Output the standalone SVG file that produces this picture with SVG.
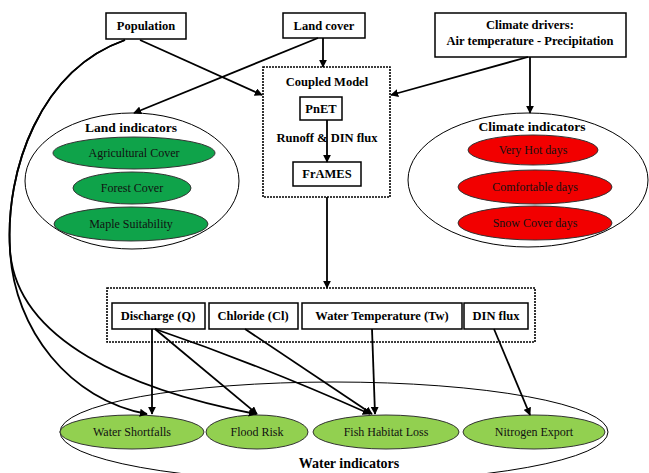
<svg xmlns="http://www.w3.org/2000/svg" width="649" height="473" viewBox="0 0 649 473">
<defs>
<marker id="ah" viewBox="0 0 10 10" refX="9" refY="5" markerWidth="8" markerHeight="8" orient="auto" markerUnits="userSpaceOnUse"><path d="M0,0 L10,5 L0,10 z" fill="#000"/></marker>
</defs>
<style>
.box{fill:#fff;stroke:#000;stroke-width:1.5}
.dash{fill:#fff;stroke:#000;stroke-width:1.6;stroke-dasharray:2,1}
.grp{fill:#fff;stroke:#000;stroke-width:1}
.lg{fill:#0fa34a;stroke:#333;stroke-width:1}
.rd{fill:#f20000;stroke:#333;stroke-width:1}
.wg{fill:#92d050;stroke:#333;stroke-width:1}
.bt{font-family:"Liberation Serif",serif;font-weight:bold;font-size:12.5px;fill:#000;text-anchor:middle}
.ht{font-family:"Liberation Serif",serif;font-weight:bold;font-size:13.5px;fill:#000;text-anchor:middle}
.et{font-family:"Liberation Serif",serif;font-size:12px;fill:#111;text-anchor:middle}
.ln{fill:none;stroke:#000;stroke-width:1.8;marker-end:url(#ah)}
</style>
<rect width="649" height="473" fill="#fff"/>

<g id="land-indicators">
<ellipse class="grp" cx="132" cy="181" rx="107" ry="68"/>
<text class="ht" x="131" y="132">Land indicators</text>
<ellipse class="lg" cx="134" cy="153" rx="81" ry="16"/>
<text class="et" x="134" y="157">Agricultural Cover</text>
<ellipse class="lg" cx="132" cy="188" rx="59" ry="16"/>
<text class="et" x="132" y="192">Forest Cover</text>
<ellipse class="lg" cx="131" cy="224" rx="77" ry="17"/>
<text class="et" x="131" y="228">Maple Suitability</text>
</g>

<g id="climate-indicators">
<ellipse class="grp" cx="528" cy="180" rx="120" ry="67"/>
<text class="ht" x="532" y="131">Climate indicators</text>
<ellipse class="rd" cx="533" cy="150" rx="65" ry="15"/>
<text class="et" x="533" y="154">Very Hot days</text>
<ellipse class="rd" cx="535" cy="187" rx="77" ry="17"/>
<text class="et" x="535" y="191">Comfortable days</text>
<ellipse class="rd" cx="535" cy="223" rx="77" ry="17"/>
<text class="et" x="535" y="227">Snow Cover days</text>
</g>

<g id="water-indicators">
<ellipse class="grp" cx="334" cy="432" rx="274" ry="50" fill="none"/>
<ellipse class="wg" cx="132" cy="432" rx="72" ry="17"/>
<text class="et" x="132" y="436">Water Shortfalls</text>
<ellipse class="wg" cx="257" cy="432" rx="51" ry="17"/>
<text class="et" x="257" y="436">Flood Risk</text>
<ellipse class="wg" cx="386" cy="432" rx="73" ry="17"/>
<text class="et" x="386" y="436">Fish Habitat Loss</text>
<ellipse class="wg" cx="534" cy="432" rx="71" ry="17"/>
<text class="et" x="534" y="436">Nitrogen Export</text>
<text class="ht" x="349" y="468" style="font-size:14px">Water indicators</text>
</g>

<g id="population">
<rect class="box" x="106" y="13" width="80" height="26"/>
<text class="bt" x="146" y="30">Population</text>
</g>

<g id="land-cover">
<rect class="box" x="283" y="13" width="82" height="25"/>
<text class="bt" x="324" y="30">Land cover</text>
</g>

<g id="climate-drivers">
<rect class="box" x="435" y="13" width="191" height="44"/>
<text class="bt" x="530" y="29">Climate drivers:</text>
<text class="bt" x="530" y="45">Air temperature - Precipitation</text>
</g>

<g id="coupled-model">
<rect class="dash" x="263" y="67" width="127" height="130"/>
<text class="bt" x="327" y="86">Coupled Model</text>
<rect class="box" x="300" y="97" width="42" height="23"/>
<text class="bt" x="321" y="113">PnET</text>
<text class="bt" x="327" y="142">Runoff &amp; DIN flux</text>
<rect class="box" x="293" y="162" width="68" height="24"/>
<text class="bt" x="327" y="178">FrAMES</text>
</g>

<g id="outputs">
<rect class="dash" x="107" y="288" width="428" height="54"/>
<rect class="box" x="112" y="303" width="93" height="26"/>
<text class="bt" x="158" y="320">Discharge (Q)</text>
<rect class="box" x="209" y="303" width="89" height="26"/>
<text class="bt" x="253" y="320">Chloride (Cl)</text>
<rect class="box" x="302" y="303" width="160" height="26"/>
<text class="bt" x="382" y="320">Water Temperature (Tw)</text>
<rect class="box" x="464" y="303" width="64" height="26"/>
<text class="bt" x="496" y="320">DIN flux</text>
</g>

<g id="connectors">
<path class="ln" d="M140,40 L262,95"/>
<path class="ln" d="M318,38 L134,113"/>
<path class="ln" d="M323,38 L323,67"/>
<path class="ln" d="M528,57 L391,95"/>
<path class="ln" d="M530,57 L530,113"/>
<path class="ln" d="M327,120 L327,162"/>
<path class="ln" d="M327,197 L327,288"/>
<path class="ln" d="M125,40 C40,70 5,170 10,250 C14,330 70,400 147,414"/>
<path class="ln" d="M125,40 C40,70 5,170 10,250 C16,340 130,390 256,414"/>
<path class="ln" d="M152,329 L152,414"/>
<path class="ln" d="M155,329 L257,414"/>
<path class="ln" d="M155,329 Q260,365 370,414"/>
<path class="ln" d="M245,329 L372,414"/>
<path class="ln" d="M372,329 L375,414"/>
<path class="ln" d="M494,329 L530,415"/>
</g>
</svg>
